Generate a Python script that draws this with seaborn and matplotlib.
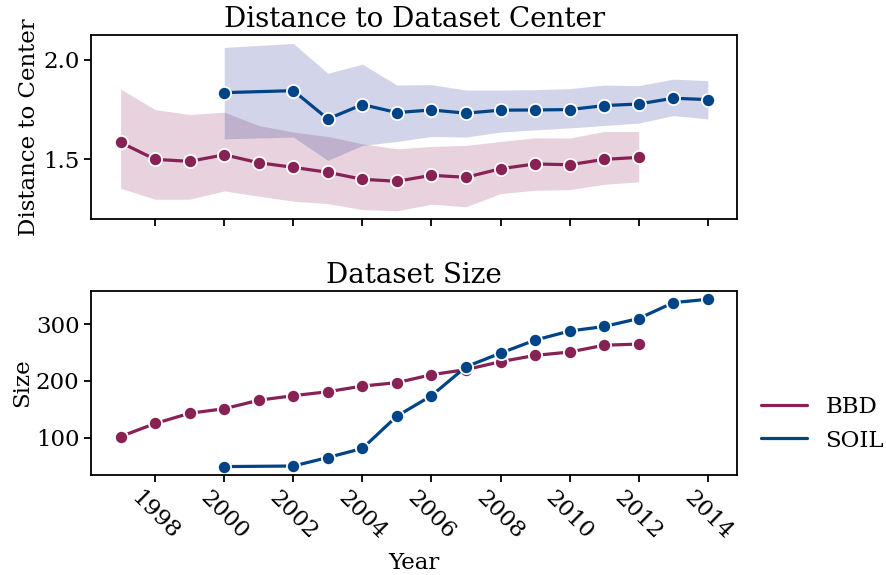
import numpy as np
import pandas as pd
import seaborn as sns
import matplotlib.pyplot as plt
from matplotlib.lines import Line2D

sns.set_style("ticks")
plt.rcParams.update({
    'font.family': 'serif',
    'font.serif': ['DejaVu Serif'],
    'font.size': 16.5,
    'axes.labelsize': 16.5,
    'axes.titlesize': 20,
    'xtick.labelsize': 16.5,
    'ytick.labelsize': 16.5,
    'axes.linewidth': 1.3,
    'text.color': 'black',
    'axes.labelcolor': 'black',
    'axes.edgecolor': 'black',
    'xtick.color': 'black',
    'ytick.color': 'black',
})

# BBD: 1997-2012
bbd_years = list(range(1997, 2013))
bbd_dist = [1.585, 1.50, 1.49, 1.523, 1.483, 1.46, 1.435, 1.40, 1.39, 1.42,
            1.41, 1.453, 1.477, 1.473, 1.50, 1.51]
bbd_dist_hi = [1.853, 1.75, 1.725, 1.737, 1.67, 1.637, 1.615, 1.578, 1.553, 1.565,
               1.57, 1.59, 1.608, 1.607, 1.64, 1.64]
bbd_dist_lo = [1.355, 1.30, 1.30, 1.342, 1.315, 1.29, 1.278, 1.248, 1.242, 1.275,
               1.262, 1.328, 1.345, 1.348, 1.375, 1.387]
bbd_size = [102, 125, 143, 151, 166, 174, 181, 191, 197, 211, 220, 234, 245, 251, 263, 265]

# SOIL: 2000, 2002-2014
soil_years = [2000] + list(range(2002, 2015))
soil_dist = [1.835, 1.845, 1.703, 1.775, 1.735, 1.748, 1.732, 1.747, 1.748, 1.75,
             1.77, 1.778, 1.807, 1.80]
soil_dist_hi = [2.062, 2.082, 1.932, 1.978, 1.873, 1.875, 1.848, 1.848, 1.85, 1.855,
                1.873, 1.87, 1.903, 1.895]
soil_dist_lo = [1.603, 1.612, 1.495, 1.57, 1.59, 1.615, 1.612, 1.637, 1.648, 1.658,
                1.67, 1.682, 1.72, 1.703]
soil_size = [49, 50, 65, 81, 138, 174, 225, 249, 272, 288, 296, 310, 338, 344]

colors = {'BBD': '#882255', 'SOIL': '#004488'}
band_colors = {'BBD': '#882255', 'SOIL': '#1f2a96'}

df = pd.concat([
    pd.DataFrame({'Year': bbd_years, 'Distance': bbd_dist, 'Size': bbd_size, 'Dataset': 'BBD'}),
    pd.DataFrame({'Year': soil_years, 'Distance': soil_dist, 'Size': soil_size, 'Dataset': 'SOIL'}),
], ignore_index=True)

fig, axes = plt.subplots(2, 1, figsize=(8.86, 5.75), dpi=100, sharex=True)
fig.subplots_adjust(left=0.103, right=0.832, top=0.939, bottom=0.174, hspace=0.39)

ax = axes[0]
ax.fill_between(bbd_years, bbd_dist_lo, bbd_dist_hi, color=band_colors['BBD'], alpha=0.2, lw=0)
ax.fill_between(soil_years, soil_dist_lo, soil_dist_hi, color=band_colors['SOIL'], alpha=0.2, lw=0)

line_kw = dict(marker='o', markersize=9.5, markeredgecolor='white', markeredgewidth=1.3,
               linewidth=2.3, legend=False)
sns.lineplot(data=df, x='Year', y='Distance', hue='Dataset', palette=colors, ax=ax, **line_kw)
ax.set_title('Distance to Dataset Center')
ax.set_ylabel('Distance to Center', labelpad=2)
ax.set_xlabel('')
ax.set_yticks([1.5, 2.0])

ax = axes[1]
sns.lineplot(data=df, x='Year', y='Size', hue='Dataset', palette=colors, ax=ax, **line_kw)
ax.set_title('Dataset Size')
ax.set_ylabel('Size', labelpad=2)
ax.set_xlabel('Year', labelpad=6)
ax.set_yticks([100, 200, 300])
ax.set_xticks(list(range(1998, 2015, 2)))
plt.setp(ax.get_xticklabels(), rotation=-45)

for a in axes:
    a.tick_params(width=1.3, length=5)

handles = [Line2D([0], [0], color=colors[k], lw=2.3) for k in ['BBD', 'SOIL']]
fig.legend(handles, ['BBD', 'SOIL'], loc='center left', bbox_to_anchor=(0.836, 0.263),
           frameon=False, fontsize=16.5)

fig.savefig('out.png', dpi=100)
